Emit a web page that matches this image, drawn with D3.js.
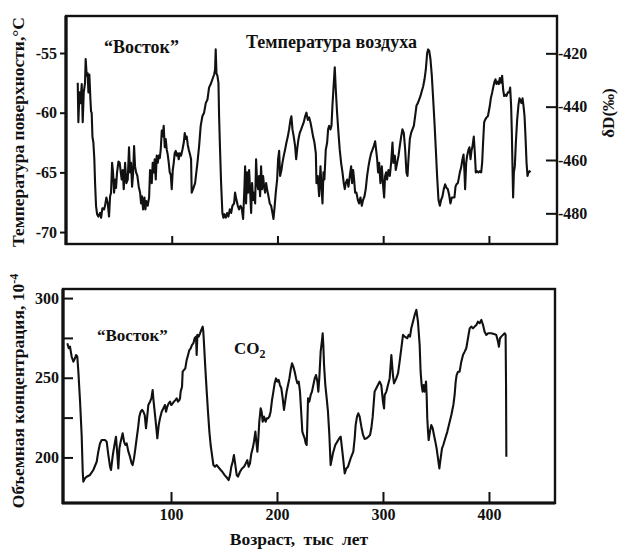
<!DOCTYPE html>
<html>
<head>
<meta charset="utf-8">
<script src="https://cdn.jsdelivr.net/npm/d3@7"></script>
<style>
  html, body { margin: 0; padding: 0; background: #fff; }
  svg text { font-family: "Liberation Serif", "Times New Roman", serif; font-weight: bold; fill: #111; }
</style>
</head>
<body>
<svg id="chart" width="618" height="552"></svg>
<script>
// Vostok ice core: surface air temperature (°C) vs age (thousand years)
const tempAge = [
  11.1,11.7,12.7,13.6,14.9,15.8,16.8,18.0,18.6,19.6,20.5,21.2,22.1,23.1,23.7,24.3,25.0,25.9,26.8,27.5,
  28.4,29.4,30.6,32.2,33.2,34.4,36.0,36.9,38.2,39.5,40.7,41.7,42.6,43.6,44.5,45.5,46.4,47.3,48.3,49.6,
  50.8,51.8,52.7,53.7,54.6,55.9,57.1,58.4,59.6,60.6,61.5,62.5,63.4,64.4,65.3,66.3,67.5,68.8,70.1,71.0,
  71.9,72.9,74.2,75.1,76.0,77.3,78.6,79.5,80.5,81.1,82.0,83.0,83.9,84.9,85.8,86.8,87.7,88.7,89.6,90.6,
  91.5,92.4,93.4,94.3,95.3,96.2,97.2,98.1,99.1,100.0,101.0,101.9,102.8,103.8,104.7,105.7,106.6,107.6,108.8,110.1,
  111.4,112.3,113.3,114.2,115.2,116.1,117.0,118.3,
  118.9,120.2,122.1,124.3,125.9,127.4,129.0,130.6,132.2,133.8,135.3,136.9,138.5,140.1,141.0,141.6,142.3,143.2,144.2,144.8,
  145.7,146.7,147.9,148.9,149.8,151.1,152.4,153.6,154.9,156.2,157.4,159.0,159.9,161.2,162.5,163.7,165.0,166.2,167.5,168.8,
  169.4,170.3,171.3,172.2,173.2,174.1,175.1,176.0,177.0,177.9,178.9,179.8,180.8,181.7,182.6,183.6,184.5,185.5,186.4,187.4,
  188.3,189.3,190.2,191.5,192.7,194.0,195.3,196.2,197.1,198.4,199.7,200.6,201.6,202.5,203.8,204.7,206.0,207.2,208.5,209.8,
  211.0,212.3,213.2,214.2,215.4,216.7,217.7,218.6,219.9,221.1,222.4,223.6,224.9,226.2,227.4,228.7,230.0,231.2,232.5,233.7,
  235.0,236.3,
  236.9,238.1,239.4,240.7,241.6,242.6,243.5,244.4,245.7,247.0,247.9,248.9,250.1,251.1,252.0,253.3,254.2,255.2,256.4,257.7,
  258.9,260.2,261.5,262.7,263.7,264.6,265.9,267.2,268.4,269.7,270.6,271.6,272.5,273.5,274.7,276.0,277.2,278.5,279.8,281.0,
  282.3,283.5,284.8,286.1,287.3,288.6,289.9,291.1,292.4,293.3,294.3,295.2,296.2,297.4,298.7,300.0,300.9,301.8,302.8,303.7,
  305.0,306.3,307.5,308.8,309.7,311.0,311.9,313.2,314.5,315.7,317.0,318.2,319.5,320.8,322.0,323.0,323.9,325.2,326.4,327.7,
  329.0,330.2,331.5,332.8,334.0,335.3,336.5,337.8,339.1,340.3,341.6,342.5,343.5,344.7,346.0,347.3,348.5,349.8,351.0,352.3,
  353.6,
  354.8,356.1,357.3,358.6,359.9,361.1,362.4,363.6,364.9,366.2,367.4,368.4,369.3,370.6,371.5,372.5,373.7,375.0,376.0,376.9,
  377.5,378.5,379.4,380.7,381.6,382.6,383.5,384.5,385.7,386.7,387.6,388.9,390.1,391.4,392.7,393.6,394.5,395.5,396.4,397.7,
  399.0,399.9,400.9,401.8,403.1,404.0,405.3,406.2,407.2,408.4,409.4,410.3,411.6,412.5,413.5,414.4,415.4,416.6,417.9,419.2,
  420.1,421.0,421.7,422.3,422.9,423.6,424.5,425.5,426.7,428.0,428.9,429.9,430.8,431.8,432.7,433.7,434.6,435.6,436.5,437.4,
  438.4,439.3
];
const tempVal = [
  -57.5,-60.8,-58.3,-59.2,-57.6,-60.8,-58.3,-57.5,-55.5,-56.9,-56.7,-58.3,-56.8,-58.9,-59.9,-60.0,-62.0,-62.5,-63.9,-65.9,
  -67.8,-68.5,-68.7,-68.4,-68.8,-68.0,-68.1,-67.8,-67.1,-67.6,-68.7,-67.0,-66.7,-64.2,-65.0,-66.7,-65.6,-66.3,-65.0,-64.1,
  -64.2,-65.0,-65.6,-64.8,-66.4,-64.2,-65.9,-65.6,-62.9,-65.0,-64.2,-66.2,-65.2,-62.8,-64.5,-65.0,-65.3,-66.2,-66.7,-67.6,
  -67.0,-68.1,-67.1,-68.1,-67.4,-67.8,-67.1,-64.8,-65.0,-65.9,-64.2,-65.0,-63.9,-65.6,-63.6,-64.2,-63.6,-63.8,-63.1,-61.5,
  -62.0,-61.1,-62.9,-62.2,-63.1,-63.5,-64.2,-65.0,-65.2,-66.4,-64.8,-64.2,-63.4,-63.2,-63.6,-63.4,-63.9,-63.4,-63.6,-63.1,
  -62.5,-61.7,-62.2,-62.0,-62.7,-63.1,-63.4,-63.9,
  -66.7,-66.4,-65.9,-64.2,-62.8,-61.1,-60.3,-60.0,-59.2,-58.9,-57.9,-57.6,-57.2,-56.8,-56.4,-54.7,-56.7,-56.9,-57.5,-60.3,
  -63.1,-65.9,-68.4,-68.8,-68.5,-68.8,-68.4,-68.7,-68.1,-68.4,-67.8,-67.6,-66.7,-67.3,-67.8,-68.1,-67.8,-68.0,-68.9,-66.2,
  -64.5,-67.6,-65.0,-66.7,-64.8,-66.4,-68.4,-65.9,-67.3,-66.7,-67.6,-63.9,-65.9,-66.4,-65.3,-67.0,-64.5,-66.4,-65.3,-66.2,
  -66.7,-65.9,-66.4,-67.0,-67.6,-67.8,-68.4,-68.9,-68.1,-66.7,-65.6,-63.9,-63.2,-65.3,-64.8,-64.2,-63.6,-63.1,-62.5,-62.0,
  -61.4,-60.6,-60.3,-61.4,-62.0,-62.8,-63.9,-63.1,-62.2,-61.7,-61.4,-61.1,-60.8,-60.3,-60.0,-60.6,-60.4,-60.8,-61.4,-62.0,
  -62.5,-63.4,
  -65.9,-65.3,-67.0,-64.5,-66.2,-67.6,-65.0,-65.6,-63.1,-62.5,-61.4,-61.1,-61.4,-61.1,-59.4,-57.5,-56.2,-58.1,-60.0,-61.7,
  -63.1,-64.2,-65.0,-65.9,-66.4,-65.9,-65.6,-66.2,-65.3,-64.5,-65.9,-64.8,-65.6,-66.7,-66.7,-67.3,-67.6,-67.1,-67.8,-67.3,
  -67.0,-66.4,-65.3,-64.5,-63.9,-63.4,-63.1,-62.8,-62.4,-63.1,-63.9,-65.0,-64.2,-65.9,-64.5,-66.2,-67.1,-65.3,-65.0,-65.6,
  -64.8,-65.3,-64.2,-62.5,-64.2,-63.6,-64.8,-64.2,-63.6,-62.8,-62.0,-61.4,-61.7,-63.1,-65.0,-65.3,-63.9,-62.2,-61.7,-61.4,
  -61.1,-60.3,-59.4,-59.2,-58.9,-58.6,-58.2,-57.8,-57.2,-56.4,-55.0,-54.7,-54.8,-55.5,-56.9,-58.9,-60.8,-63.1,-65.3,-67.3,
  -67.8,
  -67.3,-67.0,-66.4,-66.0,-66.3,-66.4,-66.9,-67.6,-67.1,-67.1,-67.1,-66.2,-66.0,-65.9,-65.5,-65.0,-64.6,-63.9,-63.5,-65.0,
  -66.4,-64.2,-63.6,-63.1,-62.9,-63.9,-63.2,-62.8,-62.0,-63.4,-65.0,-64.9,-65.0,-64.9,-65.0,-64.2,-62.5,-60.8,-60.6,-60.4,
  -60.3,-59.9,-59.4,-58.8,-58.3,-57.9,-57.4,-57.2,-57.6,-57.4,-57.6,-57.1,-57.5,-56.9,-58.1,-58.6,-58.5,-58.6,-58.3,-58.3,
  -57.9,-59.4,-61.7,-64.5,-67.1,-65.0,-64.5,-62.5,-60.6,-59.3,-58.8,-59.0,-59.2,-58.8,-59.4,-60.3,-62.0,-64.2,-65.3,-65.0,
  -64.9,-65.0
];

// Vostok ice core: CO2 volume concentration (ppmv) vs age (thousand years)
const co2Age = [
  2.2,3.5,4.7,6.3,7.9,9.4,10.4,11.6,12.6,14.2,15.7,16.7,17.3,18.9,20.4,23.6,26.7,29.9,31.4,33.0,
  34.6,37.7,39.3,40.9,42.5,43.4,44.7,45.6,47.2,48.1,49.4,50.3,51.3,52.5,54.4,55.7,56.9,58.2,59.8,61.3,
  62.9,63.8,65.1,66.4,67.6,68.9,70.1,71.4,72.7,73.9,75.2,76.4,77.7,78.6,80.2,81.5,82.7,83.3,84.6,85.9,
  87.1,88.4,89.6,91.2,92.8,94.3,95.3,96.5,97.8,99.1,100.3,101.6,102.8,104.1,105.4,106.6,107.9,108.5,109.1,110.4,
  111.0,112.3,113.5,114.8,116.1,117.3,118.6,119.8,121.1,122.3,123.6,124.2,124.9,126.1,127.4,128.6,129.9,130.5,131.2,132.4,
  133.7,134.9,136.2,137.4,138.7,140.0,141.5,143.1,
  146.9,148.4,150.6,153.2,154.4,155.7,156.9,158.2,159.4,160.7,162.0,163.2,165.1,167.0,168.9,170.5,172.0,173.3,174.5,175.8,
  177.1,178.3,179.6,180.5,181.5,182.4,183.3,184.6,185.5,186.5,187.7,189.3,190.3,191.5,192.8,194.0,195.3,196.6,197.8,199.1,
  200.3,201.6,202.8,204.1,205.4,206.6,207.9,209.1,210.4,211.7,212.9,214.2,215.4,216.7,218.0,219.2,220.5,221.7,223.0,223.9,
  224.9,226.1,227.1,228.0,228.6,229.3,230.5,231.8,233.0,234.3,235.6,236.8,238.1,239.0,240.0,241.2,242.5,243.1,243.7,244.4,
  245.6,246.9,248.1,249.4,250.6,252.8,255.0,256.9,258.8,260.1,261.7,263.9,265.4,267.0,269.5,272.0,273.3,274.2,275.5,276.7,
  278.0,279.6,281.2,282.7,284.6,286.2,287.8,289.0,290.3,
  292.1,293.7,296.9,298.4,300.0,301.0,301.6,303.2,304.7,306.3,307.9,309.4,310.4,312.6,314.2,315.7,317.3,318.9,320.5,323.0,
  324.2,325.5,326.7,328.3,329.9,331.5,333.0,334.6,335.5,336.5,337.4,338.4,339.3,340.6,341.2,341.8,342.5,343.1,344.3,345.6,
  346.9,348.1,349.4,350.6,351.9,353.2,354.4,355.7,356.9,358.8,360.7,362.6,364.5,366.4,367.6,368.6,369.5,370.8,372.3,373.9,
  375.5,377.1,378.6,380.2,381.8,383.3,384.9,386.5,388.1,389.6,391.2,392.8,394.4,395.9,397.5,399.1,402.2,405.4,406.9,408.5,
  409.4,410.4,411.6,413.2,414.8,415.7,416.1,416.4
];
const co2Val = [
  271.6,268.5,269.5,263.2,260.1,262.2,264.3,263.2,253.8,235.0,214.1,191.0,184.8,186.9,187.9,189.0,192.1,197.3,203.6,208.8,
  210.9,210.9,209.9,201.5,194.2,192.1,199.4,203.6,209.9,213.0,201.5,193.1,205.7,209.9,215.1,209.9,207.8,208.8,203.6,200.5,
  196.2,195.2,199.4,205.7,212.0,218.3,225.6,228.7,229.8,228.7,226.6,218.3,226.6,232.9,235.0,237.1,242.3,237.1,228.7,220.3,
  212.0,220.3,224.5,228.7,230.8,232.9,228.7,231.9,233.9,235.0,232.9,233.9,235.0,236.0,237.1,235.0,236.0,237.1,241.3,244.4,
  253.8,254.9,255.9,261.2,264.3,267.4,268.5,270.6,271.6,274.8,275.8,264.3,276.9,275.8,277.9,280.0,282.1,278.9,270.6,255.9,
  241.3,228.7,216.2,207.8,201.5,195.2,194.2,195.2,
  192.1,191.0,188.9,186.9,185.8,188.9,194.2,197.3,201.5,195.2,188.9,187.9,191.0,193.1,194.2,196.2,198.3,194.2,196.2,202.5,
  205.7,209.9,216.2,209.9,203.6,212.0,222.4,230.8,228.7,222.4,225.6,222.4,224.5,224.5,225.6,228.7,236.0,241.3,246.5,249.6,
  247.6,248.6,245.4,243.4,237.1,229.8,236.0,241.3,245.4,249.6,254.9,259.1,257.0,253.8,249.6,246.5,247.6,241.3,226.6,216.2,
  214.1,212.0,208.8,207.8,220.3,237.1,235.0,239.2,241.3,245.4,249.6,251.7,247.6,241.3,250.7,266.4,273.7,277.9,270.6,258.0,
  245.4,237.1,228.7,214.1,195.2,202.6,207.8,209.9,212.0,213.0,203.6,190.0,193.1,194.2,199.4,203.6,212.0,220.3,225.6,227.7,
  225.6,219.3,214.1,211.6,212.0,213.0,214.1,218.3,225.6,
  241.3,243.4,247.6,245.4,235.0,230.8,239.2,241.3,245.4,249.6,264.3,251.7,246.5,249.6,252.8,260.1,268.5,276.9,275.8,274.8,
  276.9,275.8,281.0,285.2,289.4,292.6,285.2,270.6,253.8,245.4,241.3,245.4,241.3,247.6,239.2,224.5,216.2,210.9,216.2,220.3,
  218.3,214.1,209.9,205.7,199.4,193.1,199.4,205.7,207.8,212.0,216.2,221.4,226.6,232.9,239.2,247.6,251.7,253.8,253.8,260.1,
  264.3,266.4,268.5,274.8,281.0,282.1,281.0,282.1,283.1,285.2,284.2,286.3,283.1,278.9,276.9,277.9,277.9,277.3,276.9,272.7,
  269.5,274.8,275.8,276.9,277.9,276.9,245.4,200.5
];

// Axis ticks
const ageTicks = [100, 200, 300, 400];
const tempTicks = [-55, -60, -65, -70];
const dDTicks = [-420, -440, -460, -480];
const co2Ticks = [200, 225, 250, 275, 300];
const co2Labels = [200, 250, 300];

const svg = d3.select("#chart");
svg.append("rect").attr("width", 618).attr("height", 552).attr("fill", "#fff");

// ---------- upper panel: temperature ----------
const xT = d3.scaleLinear().domain([0, 464.4]).range([66, 557]);
const yT = d3.scaleLinear().domain([-51.9, -71.0]).range([16, 244]);
const yD = d3.scaleLinear().domain([-406, -491.5]).range([16, 244]);

const upper = svg.append("g");

upper.append("g")
  .attr("transform", "translate(66,0)")
  .call(d3.axisLeft(yT).tickValues(tempTicks).tickSizeInner(6).tickSizeOuter(0)
        .tickPadding(3).tickFormat(d => String(d)))
  .call(g => g.select(".domain").remove());

upper.append("g")
  .attr("transform", "translate(557,0)")
  .call(d3.axisRight(yD).tickValues(dDTicks).tickSizeInner(-11).tickSizeOuter(0)
        .tickPadding(1).tickFormat(d => String(d)))
  .call(g => g.select(".domain").remove());

upper.append("g")
  .attr("transform", "translate(0,244)")
  .call(d3.axisBottom(xT).tickValues(ageTicks).tickSizeInner(-8).tickSizeOuter(0).tickFormat(""))
  .call(g => g.select(".domain").remove());

upper.append("path")
  .datum(d3.range(tempAge.length))
  .attr("fill", "none")
  .attr("stroke", "#111")
  .attr("stroke-width", 2.1)
  .attr("stroke-linejoin", "round")
  .attr("d", d3.line().x(i => xT(tempAge[i])).y(i => yT(tempVal[i])));

upper.append("rect")
  .attr("x", xT.range()[0]).attr("y", yT.range()[0])
  .attr("width", xT.range()[1] - xT.range()[0]).attr("height", yT.range()[1] - yT.range()[0])
  .attr("fill", "none").attr("stroke", "#111").attr("stroke-width", 2.4);
upper.append("line").attr("x1", 66).attr("x2", 66).attr("y1", 16).attr("y2", 245)
  .attr("stroke", "#111").attr("stroke-width", 3.2);

// ---------- lower panel: CO2 ----------
const xC = d3.scaleLinear().domain([-1.9, 462.3]).range([63, 555]);
const yC = d3.scaleLinear().domain([171.4, 305.7]).range([503, 289]);

const lower = svg.append("g");

lower.append("g")
  .attr("transform", "translate(63,0)")
  .call(d3.axisLeft(yC).tickValues(co2Ticks).tickSizeInner(-10).tickSizeOuter(0)
        .tickPadding(4).tickFormat(d => co2Labels.includes(d) ? String(d) : ""))
  .call(g => g.select(".domain").remove());

lower.append("g")
  .attr("transform", "translate(0,503)")
  .call(d3.axisBottom(xC).tickValues(ageTicks).tickSizeInner(-11).tickSizeOuter(0)
        .tickPadding(6).tickFormat(d => String(d)))
  .call(g => g.select(".domain").remove());

lower.append("path")
  .datum(d3.range(co2Age.length))
  .attr("fill", "none")
  .attr("stroke", "#111")
  .attr("stroke-width", 2.1)
  .attr("stroke-linejoin", "round")
  .attr("d", d3.line().x(i => xC(co2Age[i])).y(i => yC(co2Val[i])));

lower.append("rect")
  .attr("x", xC.range()[0]).attr("y", yC.range()[1])
  .attr("width", xC.range()[1] - xC.range()[0]).attr("height", yC.range()[0] - yC.range()[1])
  .attr("fill", "none").attr("stroke", "#111").attr("stroke-width", 2.4);
lower.append("line").attr("x1", 63).attr("x2", 63).attr("y1", 289).attr("y2", 504)
  .attr("stroke", "#111").attr("stroke-width", 3.2);
lower.append("line").attr("x1", 62).attr("x2", 555).attr("y1", 503).attr("y2", 503)
  .attr("stroke", "#111").attr("stroke-width", 3.2);

// tick styling
svg.selectAll(".tick line").attr("stroke", "#111").attr("stroke-width", 2);
svg.selectAll(".tick text")
  .attr("font-family", "Liberation Serif, Times New Roman, serif")
  .attr("font-weight", "bold")
  .attr("font-size", 16)
  .attr("fill", "#111");

// ---------- titles and annotations ----------
function label(x, y, txt, size, rotate) {
  const t = svg.append("text")
    .attr("font-size", size)
    .attr("text-anchor", rotate ? "middle" : "start");
  if (rotate) t.attr("transform", `translate(${x},${y}) rotate(-90)`);
  else t.attr("x", x).attr("y", y);
  t.text(txt);
  return t;
}

label(24, 132, "Температура поверхности,°С", 17.5, true);
const co2Title = label(24, 391, "Объемная концентрация, 10", 17.5, true);
co2Title.append("tspan").attr("font-size", 12).attr("dy", -6).text("-4");
label(614, 113, "δD(‰)", 17, true);

label(104, 53, "“Восток”", 18, false);
label(246, 48, "Температура воздуха", 18, false);
label(97, 341, "“Восток”", 17, false);
const co2Lab = label(234, 354, "CO", 17, false);
co2Lab.append("tspan").attr("font-size", 12).attr("dy", 4).text("2");

svg.append("text")
  .attr("x", 299).attr("y", 545)
  .attr("text-anchor", "middle")
  .attr("font-size", 17.5)
  .attr("word-spacing", 4)
  .text("Возраст, тыс лет");
</script>
</body>
</html>
